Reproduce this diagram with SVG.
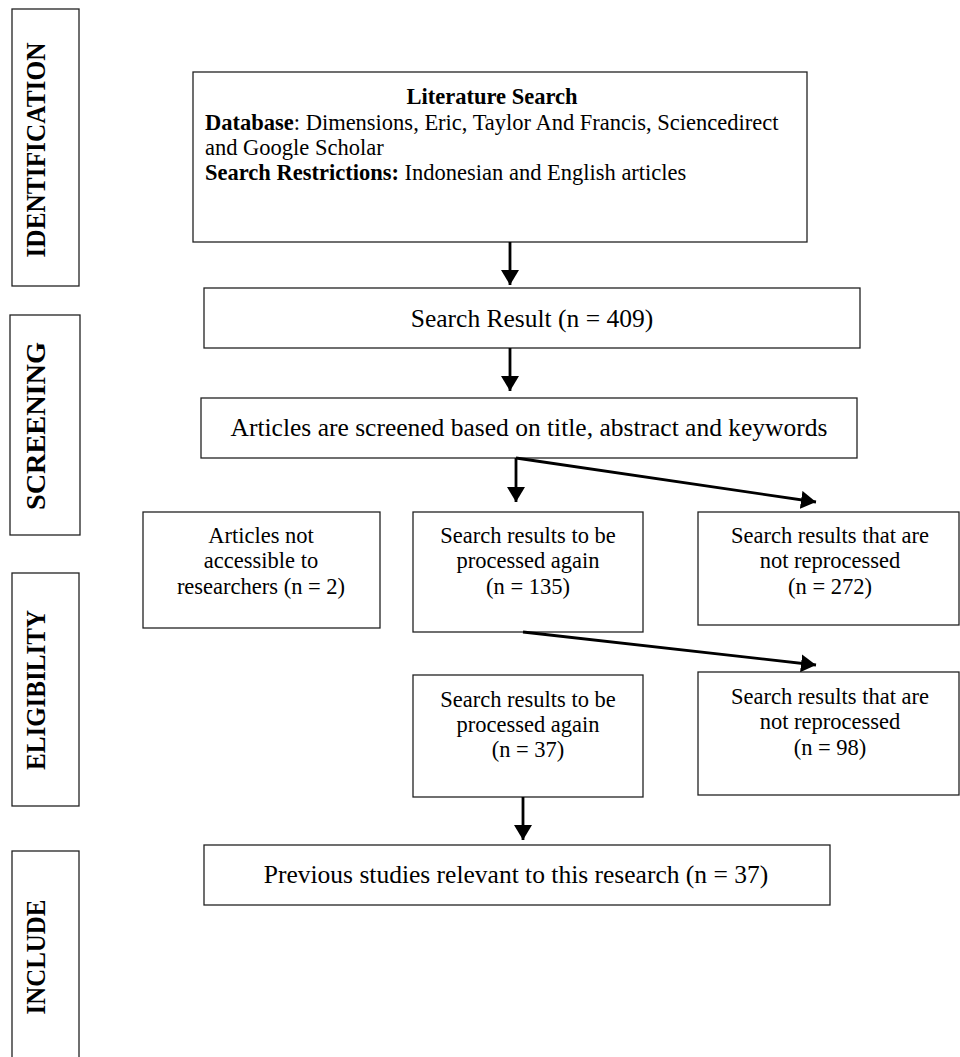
<svg xmlns="http://www.w3.org/2000/svg" width="960" height="1057" viewBox="0 0 960 1057">
<defs>
<marker id="ah" markerUnits="userSpaceOnUse" markerWidth="15" markerHeight="18" viewBox="0 0 15 18" refX="15" refY="9" orient="auto">
<path d="M0,0 L15,9 L0,18 Z" fill="#000"/>
</marker>
</defs>
<style>
.box{fill:#fff;stroke:#222;stroke-width:1.3}
.t{font-family:"Liberation Serif","Times New Roman",serif;fill:#000}
.c{text-anchor:middle}
.s1{font-size:25.5px}
.s2{font-size:22.5px}
.lab{font-family:"Liberation Serif","Times New Roman",serif;font-weight:bold;font-size:26.5px;text-anchor:middle;fill:#000}
.b{font-weight:bold}
.conn{stroke:#000;stroke-width:2.8;fill:none;marker-end:url(#ah)}
</style>
<rect width="960" height="1057" fill="#fff"/>

<g id="stage-identification">
<rect class="box" x="12" y="9" width="67" height="277"/>
<text class="lab" transform="translate(45,150) rotate(-90)" textLength="215" lengthAdjust="spacingAndGlyphs">IDENTIFICATION</text>
</g>
<g id="stage-screening">
<rect class="box" x="10" y="315" width="70" height="220"/>
<text class="lab" transform="translate(45,426) rotate(-90)" textLength="168" lengthAdjust="spacingAndGlyphs">SCREENING</text>
</g>
<g id="stage-eligibility">
<rect class="box" x="12" y="573" width="67" height="233"/>
<text class="lab" transform="translate(45,690) rotate(-90)" textLength="160" lengthAdjust="spacingAndGlyphs">ELIGIBILITY</text>
</g>
<g id="stage-include">
<rect class="box" x="12" y="851" width="67" height="215"/>
<text class="lab" transform="translate(45,957) rotate(-90)" textLength="115" lengthAdjust="spacingAndGlyphs">INCLUDE</text>
</g>

<g id="literature-search">
<rect class="box" x="193" y="72" width="614" height="170"/>
<text class="t s2 b c" x="492" y="104">Literature Search</text>
<text class="t s2" x="205" y="130"><tspan class="b">Database</tspan>: Dimensions, Eric, Taylor And Francis, Sciencedirect</text>
<text class="t s2" x="205" y="155">and Google Scholar</text>
<text class="t s2" x="205" y="180"><tspan class="b">Search Restrictions:</tspan> Indonesian and English articles</text>
</g>

<g id="search-result">
<rect class="box" x="204" y="288" width="656" height="60"/>
<text class="t s1 c" x="532" y="327">Search Result (n = 409)</text>
</g>

<g id="screened">
<rect class="box" x="201" y="398" width="656" height="60"/>
<text class="t s1 c" x="529" y="436">Articles are screened based on title, abstract and keywords</text>
</g>

<g id="not-accessible">
<rect class="box" x="143" y="512" width="237" height="116"/>
<text class="t s2 c" x="261" y="543">Articles not</text>
<text class="t s2 c" x="261" y="568">accessible to</text>
<text class="t s2 c" x="261" y="594">researchers (n = 2)</text>
</g>

<g id="processed-135">
<rect class="box" x="413" y="512" width="230" height="120"/>
<text class="t s2 c" x="528" y="543">Search results to be</text>
<text class="t s2 c" x="528" y="568">processed again</text>
<text class="t s2 c" x="528" y="594">(n = 135)</text>
</g>

<g id="not-reprocessed-272">
<rect class="box" x="698" y="512" width="261" height="113"/>
<text class="t s2 c" x="830" y="543">Search results that are</text>
<text class="t s2 c" x="830" y="568">not reprocessed</text>
<text class="t s2 c" x="830" y="594">(n = 272)</text>
</g>

<g id="processed-37">
<rect class="box" x="413" y="675" width="230" height="122"/>
<text class="t s2 c" x="528" y="707">Search results to be</text>
<text class="t s2 c" x="528" y="732">processed again</text>
<text class="t s2 c" x="528" y="757">(n = 37)</text>
</g>

<g id="not-reprocessed-98">
<rect class="box" x="698" y="672" width="261" height="123"/>
<text class="t s2 c" x="830" y="704">Search results that are</text>
<text class="t s2 c" x="830" y="729">not reprocessed</text>
<text class="t s2 c" x="830" y="755">(n = 98)</text>
</g>

<g id="relevant-studies">
<rect class="box" x="204" y="845" width="626" height="60"/>
<text class="t s1 c" x="516" y="883">Previous studies relevant to this research (n = 37)</text>
</g>

<g id="connectors">
<line class="conn" x1="510" y1="242" x2="510" y2="285"/>
<line class="conn" x1="510" y1="348" x2="510" y2="391"/>
<line class="conn" x1="516" y1="458" x2="516" y2="502"/>
<line class="conn" x1="516" y1="458" x2="816" y2="502"/>
<line class="conn" x1="523" y1="632" x2="816" y2="665"/>
<line class="conn" x1="523" y1="797" x2="523" y2="840"/>
</g>
</svg>
